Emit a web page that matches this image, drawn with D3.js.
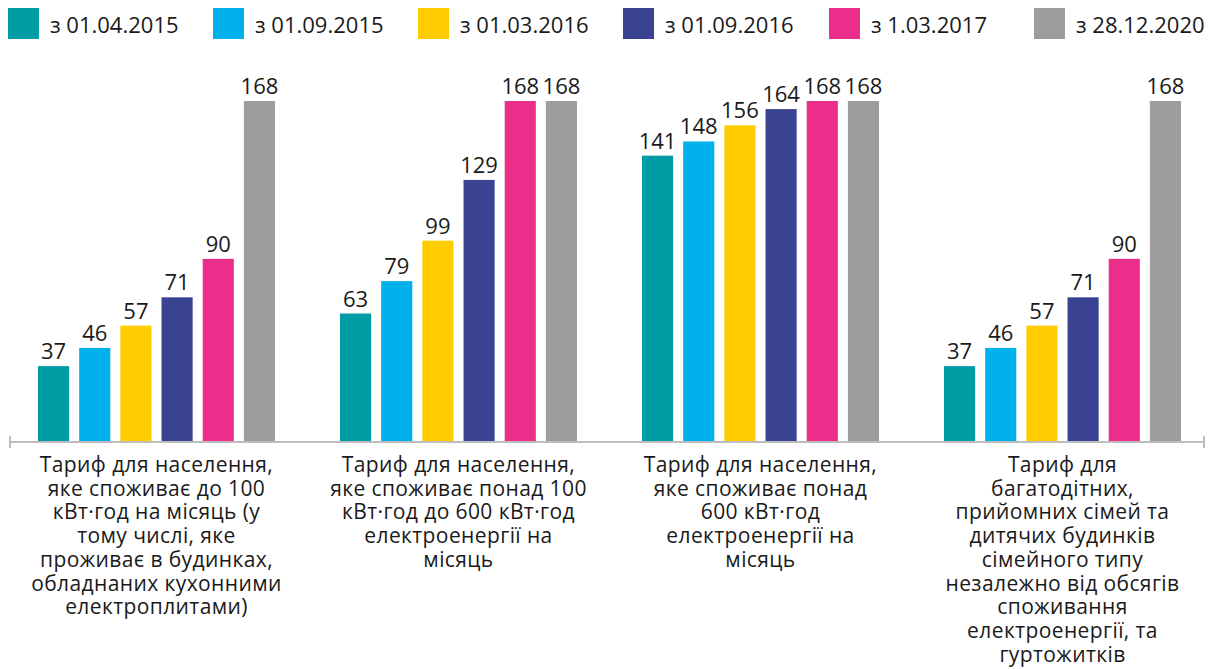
<!DOCTYPE html>
<html>
<head>
<meta charset="utf-8">
<script src="https://cdn.jsdelivr.net/npm/d3@7"></script>
<style>
  html, body { margin: 0; padding: 0; background: #fff; }
  svg text { font-family: 'Open Sans', sans-serif; fill: #1a1a1a; }
</style>
</head>
<body>
<div id="chart"></div>
<script>
// series (legend) and their colours
var series = ['з 01.04.2015', 'з 01.09.2015', 'з 01.03.2016', 'з 01.09.2016', 'з 1.03.2017', 'з 28.12.2020'];
var colors = ['#009ca6', '#00b1eb', '#ffcc00', '#3a4392', '#ea2e8a', '#9d9d9c'];

// categories, each label already split into lines as in the picture
var categories = ['c1', 'c2', 'c3', 'c4'];
var categoryLines = [
    ['Тариф для населення,', 'яке споживає до 100', 'кВт·год на місяць (у', 'тому числі, яке', 'проживає в будинках,', 'обладнаних кухонними', 'електроплитами)'],
    ['Тариф для населення,', 'яке споживає понад 100', 'кВт·год до 600 кВт·год', 'електроенергії на', 'місяць'],
    ['Тариф для населення,', 'яке споживає понад', '600 кВт·год', 'електроенергії на', 'місяць'],
    ['Тариф для', 'багатодітних,', 'прийомних сімей та', 'дитячих будинків', 'сімейного типу', 'незалежно від обсягів', 'споживання', 'електроенергії, та', 'гуртожитків']
];

// values per category, one per series (коп./кВт·год)
var values1 = [37, 46, 57, 71, 90, 168];
var values2 = [63, 79, 99, 129, 168, 168];
var values3 = [141, 148, 156, 164, 168, 168];
var values4 = [37, 46, 57, 71, 90, 168];
var values = [values1, values2, values3, values4];

var width = 1226, height = 669;

var svg = d3.select('#chart')
    .append('svg')
        .attr('width', width)
        .attr('height', height);

var x0 = d3.scaleBand()
    .domain(categories)
    .range([5.5, 1213.5]);

var x1 = d3.scaleBand()
    .domain(series)
    .range([32.5, 269.5])
    .paddingInner(0.244);

var y = d3.scaleLinear()
    .domain([0, 168])
    .range([441, 101]);

// legend
var legend = svg.append('g').attr('class', 'legend');
var legendX = [8, 213, 418, 623, 829, 1034];
series.forEach(function (s, i) {
    var g = legend.append('g').attr('transform', 'translate(' + legendX[i] + ',8)');
    g.append('rect')
        .attr('width', 31)
        .attr('height', 31)
        .attr('fill', colors[i]);
    g.append('text')
        .attr('x', 42)
        .attr('y', 25)
        .attr('font-size', 22)
        .text(s);
});

// bars
var groups = svg.selectAll('g.group')
    .data(categories)
    .enter()
    .append('g')
        .attr('class', 'group')
        .attr('transform', function (d) { return 'translate(' + x0(d) + ',0)'; });

groups.selectAll('rect')
    .data(function (d, i) { return values[i].map(function (v, j) { return { s: series[j], v: v, c: colors[j] }; }); })
    .enter()
    .append('rect')
        .attr('x', function (d) { return x1(d.s); })
        .attr('y', function (d) { return y(d.v); })
        .attr('width', x1.bandwidth())
        .attr('height', function (d) { return y(0) - y(d.v); })
        .attr('fill', function (d) { return d.c; });

groups.selectAll('text.val')
    .data(function (d, i) { return values[i].map(function (v, j) { return { s: series[j], v: v }; }); })
    .enter()
    .append('text')
        .attr('class', 'val')
        .attr('x', function (d) { return x1(d.s) + x1.bandwidth() / 2; })
        .attr('y', function (d) { return y(d.v) - 7; })
        .attr('text-anchor', 'middle')
        .attr('font-size', 22)
        .text(function (d) { return d.v; });

// axis line with end ticks
var axis = svg.append('g').attr('stroke', '#bdbdbd').attr('stroke-width', 2);
axis.append('line').attr('x1', 10).attr('x2', 1204).attr('y1', 442).attr('y2', 442);
axis.append('line').attr('x1', 10).attr('x2', 10).attr('y1', 436).attr('y2', 448);
axis.append('line').attr('x1', 1204).attr('x2', 1204).attr('y1', 436).attr('y2', 448);

// category labels
groups.append('text')
    .attr('x', x0.bandwidth() / 2)
    .attr('y', 472)
    .attr('text-anchor', 'middle')
    .attr('font-size', 21)
    .attr('letter-spacing', 0.4)
    .selectAll('tspan')
    .data(function (d, i) { return categoryLines[i]; })
    .enter()
    .append('tspan')
        .attr('x', x0.bandwidth() / 2)
        .attr('dy', function (d, i) { return i === 0 ? 0 : 23.7; })
        .text(function (d) { return d; });
</script>
</body>
</html>
